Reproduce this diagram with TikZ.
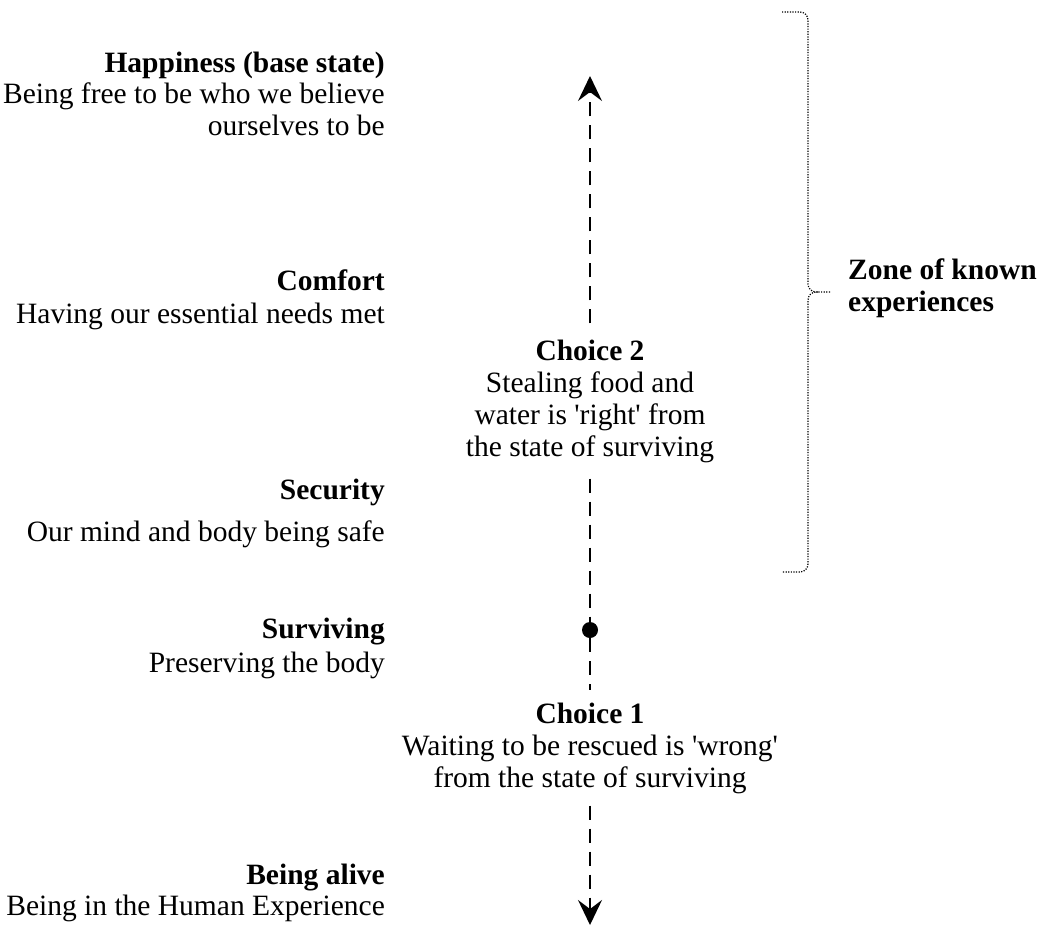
\documentclass[tikz,border=0pt]{standalone}
\usepackage{fontspec}
\setmainfont{Liberation Serif}
\usetikzlibrary{arrows.meta, positioning}

\newcommand\labelsize{\fontsize{29.5}{32}\selectfont}
\tikzset{
  head/.style={font=\labelsize\bfseries, inner sep=0pt},
  desc/.style={font=\labelsize, inner sep=0pt, align=right},
  choice/.style={font=\labelsize, inner xsep=0pt, inner ysep=16pt, align=center},
  axis/.style={line width=1.6pt, dash pattern=on 14pt off 9pt},
  tip/.style={-{Stealth[length=25pt, width=24pt, inset=9pt]}},
  bracket/.style={line width=1.2pt, dash pattern=on 1.2pt off 1.4pt, rounded corners=8pt}
}

\begin{document}
\begin{tikzpicture}[x=1pt, y=-1pt]
\useasboundingbox (0,0) rectangle (1044,927);

% states on the left
\node[head, anchor=base east] (happy) at (385,72) {Happiness (base state)};
\node[desc, anchor=base east] (happyd) at (385,135) {Being free to be who we believe\\ourselves to be};
\node[head, anchor=base east] (comfort) at (385,290) {Comfort};
\node[desc, anchor=base east] (comfortd) at (385,323) {Having our essential needs met};
\node[head, anchor=base east] (security) at (385,499) {Security};
\node[desc, anchor=base east] (securityd) at (385,541) {Our mind and body being safe};
\node[head, anchor=base east] (surviving) at (385,638) {Surviving};
\node[desc, anchor=base east] (survivingd) at (385,672) {Preserving the body};
\node[head, anchor=base east] (alive) at (385,884) {Being alive};
\node[desc, anchor=base east] (alived) at (385,915) {Being in the Human Experience};

% the axis with its two choices
\coordinate (top) at (590,76);
\coordinate (bottom) at (590,925);
\node[choice, anchor=base] (ch2) at (590,456) {\textbf{Choice 2}\\Stealing food and\\water is \textquotesingle right\textquotesingle{} from\\the state of surviving};
\node[circle, fill, inner sep=0pt, minimum size=16pt] (dot) at (590,630) {};
\node[choice, inner ysep=12pt, anchor=base] (ch1) at (590,787) {\textbf{Choice 1}\\Waiting to be rescued is \textquotesingle wrong\textquotesingle\\from the state of surviving};

\draw[axis, tip] (ch2) -- (top);
\draw[axis] (ch2) -- (dot);
\draw[axis] (dot) -- (ch1);
\draw[axis, tip] (ch1) -- (bottom);

% zone bracket
\coordinate (btop) at (782,12);
\coordinate (bnotch) at (830,292);
\coordinate (bbot) at (782,572);
\draw[bracket] (btop) -| (808,292) -- (bnotch);
\draw[bracket] (818,292) -| (808,572) -- (bbot);
\node[head, align=left, anchor=base west] (zone) at (848,311) {Zone of known\\experiences};
\end{tikzpicture}
\end{document}
